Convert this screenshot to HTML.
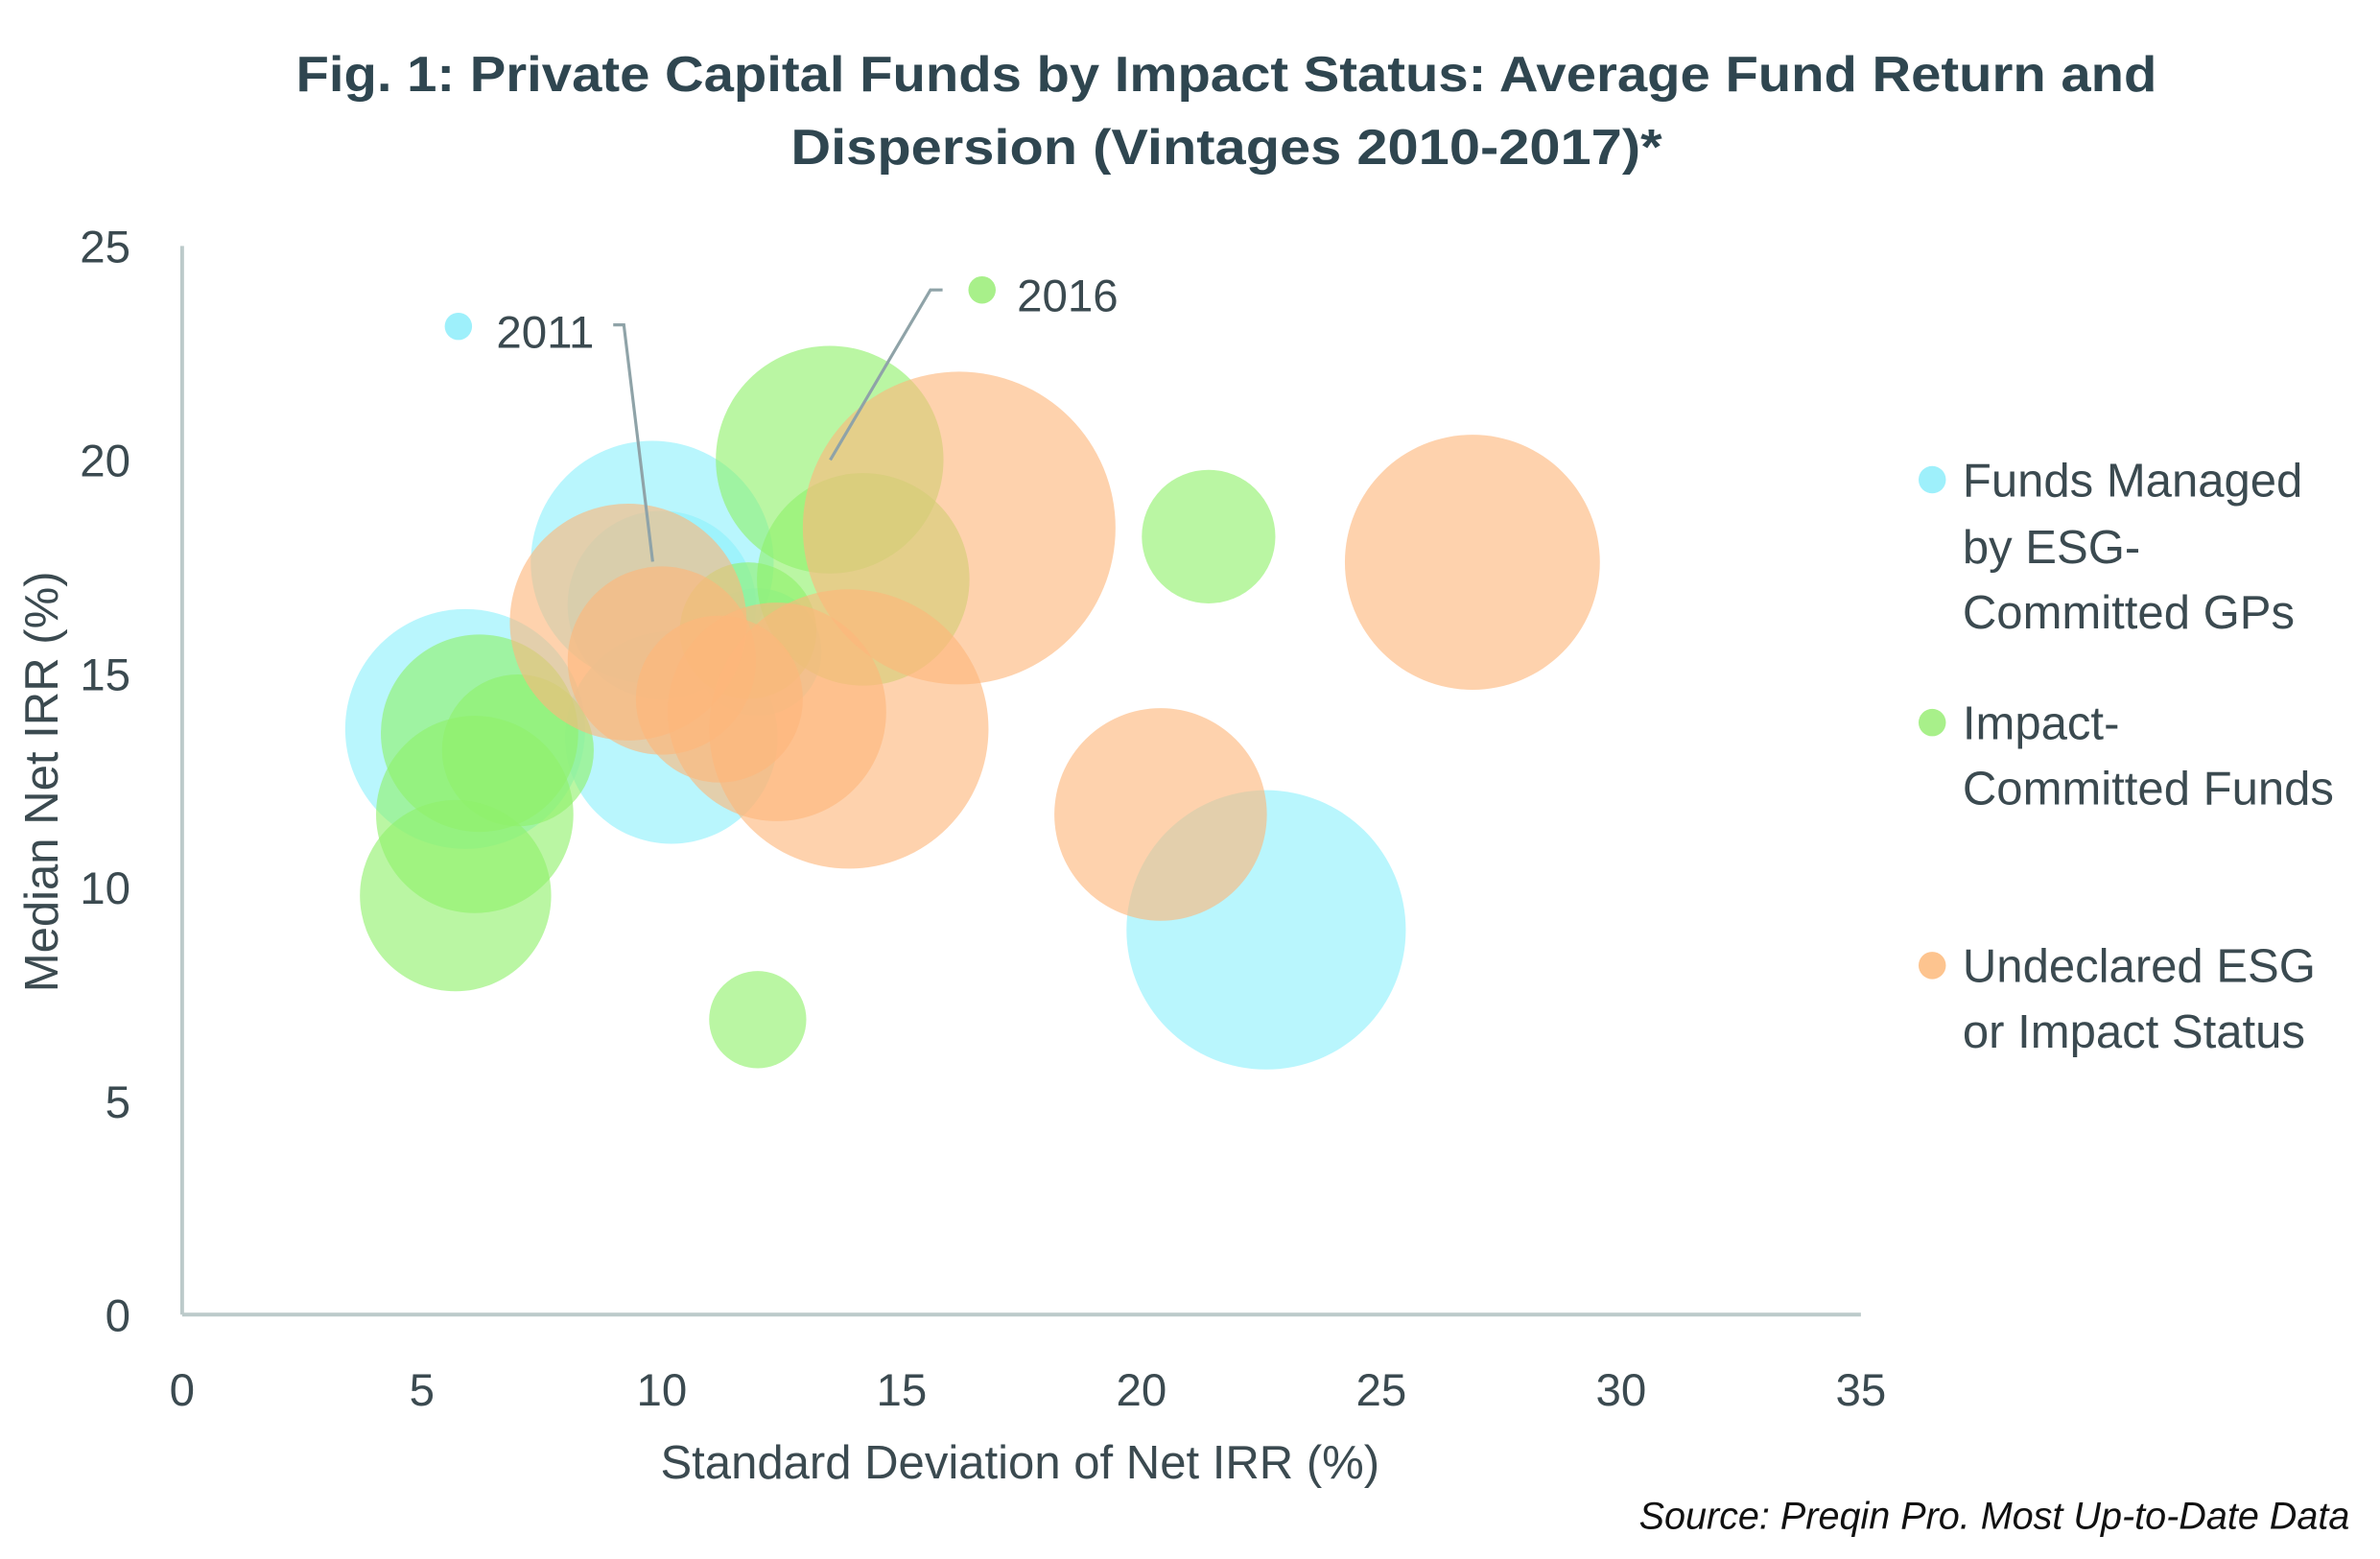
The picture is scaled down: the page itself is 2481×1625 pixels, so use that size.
<!DOCTYPE html>
<html><head><meta charset="utf-8"><style>
html,body{margin:0;padding:0;background:#fff}
svg{display:block}
text{font-family:"Liberation Sans",sans-serif}
</style></head><body>
<svg id="chart" width="2481" height="1625" viewBox="0 0 1568 1027" xmlns="http://www.w3.org/2000/svg">
<g fill="#2f4650" font-weight="bold" font-size="33" text-anchor="middle">
<text x="808" y="60" textLength="1226" lengthAdjust="spacingAndGlyphs">Fig. 1: Private Capital Funds by Impact Status: Average Fund Return and</text>
<text x="808" y="108" textLength="574" lengthAdjust="spacingAndGlyphs">Dispersion (Vintages 2010-2017)*</text>
</g>
<g id="bubbles"></g>
<g id="axes"></g>
<g>
<circle cx="302" cy="215" r="9" fill="#9ef0fb"/>
<text x="327" y="229" font-size="30" fill="#3b4a50">2011</text>
<polyline points="404,214 411,214 430,370" fill="none" stroke="#8fa3a8" stroke-width="2"/>
<circle cx="647" cy="191" r="9" fill="#a8f08a"/>
<text x="670" y="205" font-size="30" fill="#3b4a50">2016</text>
<polyline points="621,191 613,191 547,303" fill="none" stroke="#8fa3a8" stroke-width="2"/>
</g>
<g font-size="31" fill="#3b4a50">
<g>
<circle cx="1273" cy="316" r="9" fill="#9ef0fb"/>
<text x="1293" y="327">Funds Managed</text><text x="1293" y="371">by ESG-</text><text x="1293" y="414">Committed GPs</text></g>
<g>
<circle cx="1273" cy="476" r="9" fill="#a8f08a"/>
<text x="1293" y="487">Impact-</text><text x="1293" y="530">Committed Funds</text></g>
<g>
<circle cx="1273" cy="636" r="9" fill="#fdc48f"/>
<text x="1293" y="647">Undeclared ESG</text><text x="1293" y="690">or Impact Status</text></g>
</g>
<text transform="translate(38,515) rotate(-90)" text-anchor="middle" font-size="31" fill="#3b4a50">Median Net IRR (%)</text>
<text x="672" y="974" text-anchor="middle" font-size="31" fill="#3b4a50">Standard Deviation of Net IRR (%)</text>
<text x="1548" y="1007" text-anchor="end" font-size="25" font-style="italic" fill="#111">Source: Preqin Pro. Most Up-to-Date Data</text>
</svg>
<script>
const xTicks=[0,5,10,15,20,25,30,35];
const yTicks=[0,5,10,15,20,25];
const esgX=[5.9,9.8,10.0,10.2,12.0,22.6];
const esgY=[13.7,17.6,16.6,13.5,15.5,9.0];
const esgSize=[79,80,62,70,42,92];
const impX=[13.5,14.2,21.4,6.2,7.0,6.1,5.7,12.0,11.8];
const impY=[20.0,17.2,18.2,13.6,13.2,11.7,9.8,6.9,16.0];
const impSize=[75,70,44,65,50,65,63,32,45];
const undX=[16.2,26.9,9.3,10.0,13.9,12.4,11.2,20.4];
const undY=[18.4,17.6,16.2,15.3,13.7,14.1,14.4,11.7];
const undSize=[103,84,78,62,92,72,55,70];
const NS="http://www.w3.org/2000/svg";
const X0=120,X1=1226,Y0=866,Y1=162;
function sx(v){return X0+(v-0)/35*(X1-X0);}
function sy(v){return Y0-(v-0)/25*(Y0-Y1);}
const bub=document.getElementById('bubbles');
function series(xs,ys,ss,color,name){
  xs.forEach((x,i)=>{
    const c=document.createElementNS(NS,'circle');
    c.setAttribute('cx',sx(x));c.setAttribute('cy',sy(ys[i]));c.setAttribute('r',ss[i]);
    c.setAttribute('fill',color);c.setAttribute('fill-opacity','0.62');
    
    
    bub.appendChild(c);
  });
}
series(esgX,esgY,esgSize,'#8ef1fb','esg');
series(impX,impY,impSize,'#8ff06a','impact');
series(undX,undY,undSize,'#fdb77a','undeclared');
const ax=document.getElementById('axes');
function line(x1,y1,x2,y2,n){const l=document.createElementNS(NS,'line');
l.setAttribute('x1',x1);l.setAttribute('y1',y1);l.setAttribute('x2',x2);l.setAttribute('y2',y2);
l.setAttribute('stroke','#bccaca');l.setAttribute('stroke-width','2.5');


ax.appendChild(l);}
line(X0,Y1,X0,Y0,'y-axis-line');
line(X0,Y0,X1,Y0,'x-axis-line');
xTicks.forEach(t=>{const e=document.createElementNS(NS,'text');
e.setAttribute('x',sx(t));e.setAttribute('y',926);e.setAttribute('text-anchor','middle');
e.setAttribute('font-size','30');e.setAttribute('fill','#3b4a50');e.textContent=t;


ax.appendChild(e);});
yTicks.forEach(t=>{const e=document.createElementNS(NS,'text');
e.setAttribute('x',86);e.setAttribute('y',sy(t)+11);e.setAttribute('text-anchor','end');
e.setAttribute('font-size','30');e.setAttribute('fill','#3b4a50');e.textContent=t;


ax.appendChild(e);});
</script>
</body></html>
